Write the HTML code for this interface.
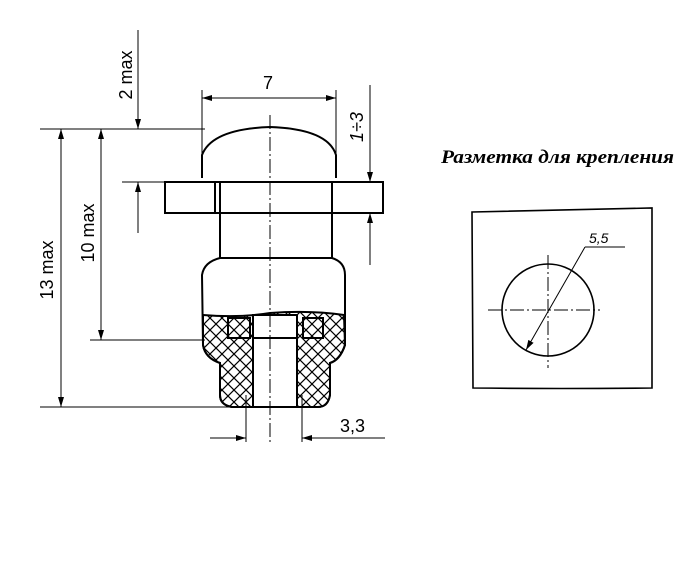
<!DOCTYPE html>
<html><head><style>body{margin:0;background:#fff}svg{display:block}</style></head><body>
<svg width="695" height="567" viewBox="0 0 695 567" xmlns="http://www.w3.org/2000/svg">
<defs>
<pattern id="h" width="12" height="12" patternUnits="userSpaceOnUse">
<path d="M0 0L12 12M12 0L0 12" stroke="#000" stroke-width="1.2"/>
</pattern>
<marker id="a" viewBox="0 0 10 6" refX="10" refY="3" markerWidth="10" markerHeight="6" orient="auto-start-reverse" markerUnits="userSpaceOnUse"><path d="M0 0L10 3L0 6z" fill="#000"/></marker>
</defs>
<g stroke="#000" fill="none" stroke-width="1">
<line x1="138" y1="30" x2="138" y2="129" marker-end="url(#a)"/>
<line x1="138" y1="182" x2="138" y2="233" marker-start="url(#a)"/>
<line x1="40" y1="129" x2="205" y2="129"/>
<line x1="122" y1="182" x2="165" y2="182"/>
<line x1="202" y1="90" x2="202" y2="178"/>
<line x1="336" y1="90" x2="336" y2="178"/>
<line x1="202" y1="98" x2="336" y2="98" marker-start="url(#a)" marker-end="url(#a)"/>
<line x1="101" y1="129" x2="101" y2="340" marker-start="url(#a)" marker-end="url(#a)"/>
<line x1="90" y1="340" x2="205" y2="340"/>
<line x1="61" y1="129" x2="61" y2="407" marker-start="url(#a)" marker-end="url(#a)"/>
<line x1="40" y1="407" x2="235" y2="407"/>
<line x1="370" y1="85" x2="370" y2="182" marker-end="url(#a)"/>
<line x1="370" y1="213" x2="370" y2="265" marker-start="url(#a)"/>
<line x1="246" y1="395" x2="246" y2="442"/>
<line x1="302" y1="395" x2="302" y2="442"/>
<line x1="210" y1="438" x2="246" y2="438" marker-end="url(#a)"/>
<line x1="302" y1="438" x2="385" y2="438" marker-start="url(#a)"/>
</g>
<g stroke="#000" fill="none" stroke-width="2">
<path d="M202 178 L202 155 Q212 129 270 127 Q328 129 336 155 L336 178"/>
<rect x="165" y="182" width="218" height="31"/>
<line x1="215" y1="182" x2="215" y2="213"/><line x1="220" y1="182" x2="220" y2="213"/><line x1="332" y1="182" x2="332" y2="213"/>
<line x1="220" y1="213" x2="220" y2="258"/><line x1="332" y1="213" x2="332" y2="258"/>
<path d="M203 315 Q240 318 270 313 Q310 310 344 315 L345 345 Q340 360 330 363 L330 395 Q328 407 318 407 L232 407 Q220 405 220 395 L220 363 Q205 358 203 345 Z" fill="url(#h)"/>
<rect x="253" y="315" width="44" height="92" fill="#fff"/>
<line x1="253" y1="338" x2="297" y2="338"/>
<rect x="228" y="318" width="22" height="20"/>
<rect x="303" y="318" width="20" height="20"/>
<path d="M220 258 L332 258 Q345 262 345 275 L345 345 Q340 360 330 363 L330 395 Q328 407 318 407 L232 407 Q220 405 220 395 L220 363 Q205 358 203 345 L202 275 Q204 262 220 258 Z"/>
</g>
<line x1="270" y1="115" x2="270" y2="445" stroke="#000" stroke-width="1" stroke-dasharray="14 3 2 3"/>
<g font-family="Liberation Sans, sans-serif" font-size="18" fill="#000">
<text x="268" y="89" text-anchor="middle">7</text>
<text x="340" y="432">3,3</text>
<text transform="translate(132,75) rotate(-90)" text-anchor="middle">2 max</text>
<text transform="translate(94,233) rotate(-90)" text-anchor="middle">10 max</text>
<text transform="translate(53,270) rotate(-90)" text-anchor="middle">13 max</text>
<text transform="translate(363,127) rotate(-90)" text-anchor="middle" font-style="italic">1÷3</text>
</g>
<text x="441" y="163" textLength="233" lengthAdjust="spacingAndGlyphs" font-family="Liberation Serif, serif" font-weight="bold" font-style="italic" font-size="19">Разметка для крепления</text>
<g stroke="#000" fill="none" stroke-width="1.6">
<path d="M472 212 Q560 210 652 208 L652 388 Q560 389 473 388 Z"/>
<circle cx="548" cy="310" r="46"/>
</g>
<g stroke="#000" stroke-width="1" fill="none">
<line x1="488" y1="310" x2="600" y2="310" stroke-dasharray="14 3 2 3"/>
<line x1="548" y1="255" x2="548" y2="368" stroke-dasharray="14 3 2 3"/>
<line x1="526" y1="350" x2="585" y2="247" marker-start="url(#a)"/>
<line x1="585" y1="247" x2="625" y2="247"/>
</g>
<text x="589" y="243" font-family="Liberation Sans, sans-serif" font-size="14" font-style="italic">5,5</text>
</svg>
</body></html>
